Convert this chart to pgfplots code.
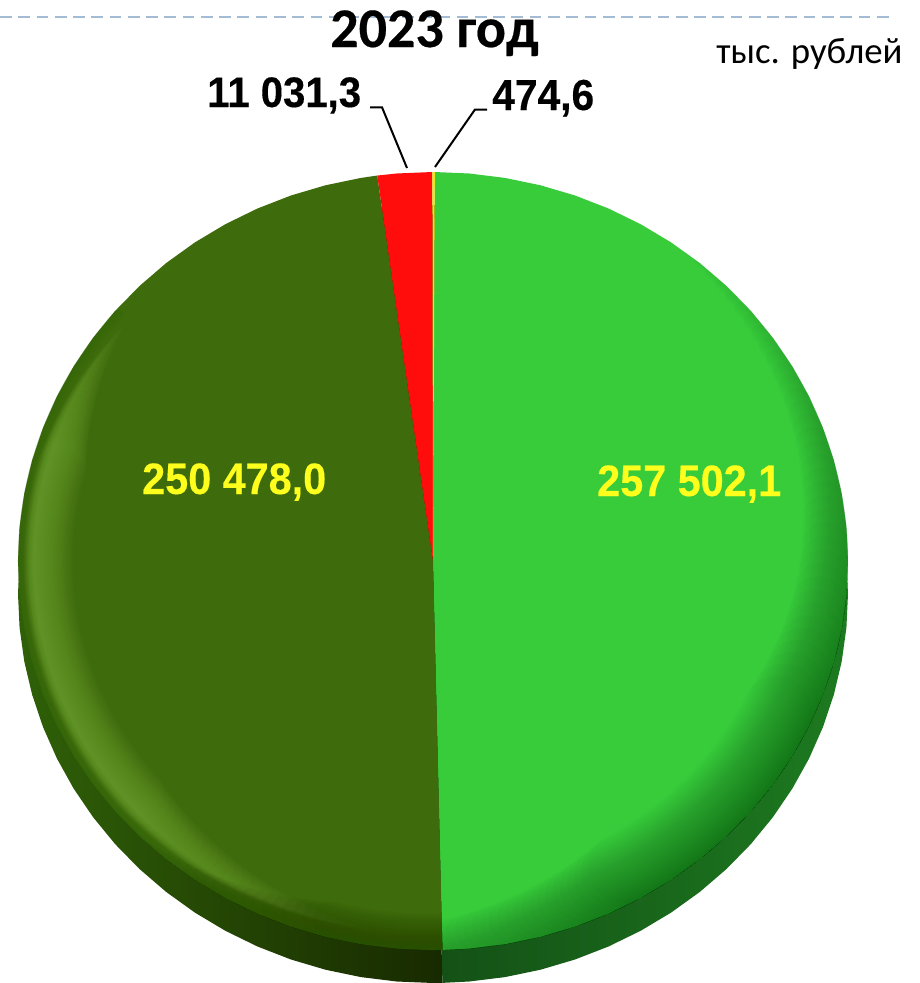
\documentclass[border=0pt]{standalone}
\usepackage{fontspec}
\usepackage{pgfplots}
\pgfplotsset{compat=1.18}
\setmainfont{Carlito}
\newfontfamily\arialb[FakeBold=0.3, FakeStretch=0.94]{Liberation Sans Bold}
\newfontfamily\titlef[FakeBold=0.4]{Carlito Bold}
\definecolor{cgreen}{HTML}{38CC3B}
\definecolor{cdark}{HTML}{3E6B0B}
\definecolor{cred}{HTML}{FF0D0D}
\definecolor{cyel}{HTML}{E8E81A}
\definecolor{clab}{HTML}{FFFF1E}
\definecolor{cdash}{HTML}{A3BCD3}
\definecolor{sideGa}{HTML}{145016}
\definecolor{sideGb}{HTML}{1D7A20}
\definecolor{sideDa}{HTML}{2F6008}
\definecolor{sideDb}{HTML}{182A00}
\definecolor{rimG}{HTML}{0B4D10}
\definecolor{hiD}{HTML}{85BD48}
\definecolor{loD}{HTML}{1C3000}
\definecolor{edgeD}{HTML}{2D6208}
% Values, thousand roubles: 257 502,1 / 250 478,0 / 11 031,3 / 474,6 (total 519 486,0)
% Sector angles, degrees: 178.447 / 173.578 / 7.645 / 0.329, clockwise from 89.75
\pgfplotsset{pie/.style={hide axis, scale only axis, width=690pt, height=737.25pt,
  at={(0pt,0pt)}, anchor=south west, clip=false,
  xmin=-1.04337, xmax=1.17349, ymin=-1.0848, ymax=1.4422}}
\newcommand\rim[6]{% colour, opacity, width px, inset px, from, to
  \pgfmathsetmacro\xr{(415-#4)*0.75}\pgfmathsetmacro\yr{(389-#4)*0.75}
  \draw[line width=#3*0.75pt, color=#1, opacity=#2, line cap=round]
    (324.75pt,316.5pt) ++(#5:\xr pt and \yr pt) arc[start angle=#5, end angle=#6, x radius=\xr pt, y radius=\yr pt];}
\begin{document}
\begin{tikzpicture}
\useasboundingbox (0pt,0pt) rectangle (690pt,737.25pt);
% side of the disc: the same sectors, 33 px lower
\begin{axis}[pie, ymin=-1.0, ymax=1.527]
\addplot[draw=none, left color=sideGa, right color=sideGb, data cs=polar] coordinates {
 (0,0)(89.75,1)(85,1)(80,1)(75,1)(70,1)(65,1)(60,1)(55,1)(50,1)(45,1)(40,1)(35,1)(30,1)(25,1)(20,1)(15,1)(10,1)(5,1)(0,1)(-5,1)(-10,1)(-15,1)(-20,1)(-25,1)(-30,1)(-35,1)(-40,1)(-45,1)(-50,1)(-55,1)(-60,1)(-65,1)(-70,1)(-75,1)(-80,1)(-85,1)(-88.697,1)};
\addplot[draw=none, left color=sideDa, right color=sideDb, data cs=polar] coordinates {
 (0,0)(-88.697,1)(-90,1)(-95,1)(-100,1)(-105,1)(-110,1)(-115,1)(-120,1)(-125,1)(-130,1)(-135,1)(-140,1)(-145,1)(-150,1)(-155,1)(-160,1)(-165,1)(-170,1)(-175,1)(-180,1)(-185,1)(-190,1)(-195,1)(-200,1)(-205,1)(-210,1)(-215,1)(-220,1)(-225,1)(-230,1)(-235,1)(-240,1)(-245,1)(-250,1)(-255,1)(-260,1)(-262.275,1)(-265,1)(-270.25,1)};
\end{axis}
% top face
\begin{axis}[pie]
\addplot[draw=none, fill=cgreen, data cs=polar] coordinates {
 (0,0)(89.75,1)(85,1)(80,1)(75,1)(70,1)(65,1)(60,1)(55,1)(50,1)(45,1)(40,1)(35,1)(30,1)(25,1)(20,1)(15,1)(10,1)(5,1)(0,1)(-5,1)(-10,1)(-15,1)(-20,1)(-25,1)(-30,1)(-35,1)(-40,1)(-45,1)(-50,1)(-55,1)(-60,1)(-65,1)(-70,1)(-75,1)(-80,1)(-85,1)(-88.697,1)};
\addplot[draw=none, fill=cdark, data cs=polar] coordinates {
 (0,0)(-88.697,1)(-90,1)(-95,1)(-100,1)(-105,1)(-110,1)(-115,1)(-120,1)(-125,1)(-130,1)(-135,1)(-140,1)(-145,1)(-150,1)(-155,1)(-160,1)(-165,1)(-170,1)(-175,1)(-180,1)(-185,1)(-190,1)(-195,1)(-200,1)(-205,1)(-210,1)(-215,1)(-220,1)(-225,1)(-230,1)(-235,1)(-240,1)(-245,1)(-250,1)(-255,1)(-260,1)(-262.275,1)};
\end{axis}
% bevel on the rim of the green sector
\begin{scope}
\clip (327.45pt,900pt) -- (324.75pt,316.5pt) -- (338.9pt,-267pt) -- (1500pt,-267pt) -- (1500pt,900pt) -- cycle;
\foreach \i in {1,...,35}{
  \pgfmathsetmacro\w{2*\i}\pgfmathsetmacro\h{\i}
  \pgfmathsetmacro\as{-110+\w/70*50}\pgfmathsetmacro\ae{55-\w/70*80}
  \rim{rimG}{0.024}{\w}{\h}{\as}{\ae}
}
\end{scope}
% bevel on the rim of the dark sector
\begin{scope}
\clip (327.45pt,900pt) -- (324.75pt,316.5pt) -- (338.9pt,-267pt) -- (-375pt,-267pt) -- (-375pt,900pt) -- cycle;
\foreach \i in {1,...,25}{
  \pgfmathsetmacro\w{2*\i}\pgfmathsetmacro\h{16+0.28*\w}
  \pgfmathsetmacro\as{140+25*\w/50}\pgfmathsetmacro\ae{262-42*\w/50}
  \rim{hiD}{0.034}{\w}{\h}{\as}{\ae}
}
\foreach \i in {1,...,18}{
  \pgfmathsetmacro\w{2*\i}\pgfmathsetmacro\h{\i}
  \pgfmathsetmacro\as{225+30*\w/36}
  \rim{loD}{0.038}{\w}{\h}{\as}{282}
}
\foreach \i in {1,...,5}{
  \pgfmathsetmacro\w{2*\i}\pgfmathsetmacro\h{\i}
  \rim{edgeD}{0.1}{\w}{\h}{140}{282}
}
\end{scope}
% narrow sectors
\begin{axis}[pie]
\addplot[draw=none, fill=cred, data cs=polar] coordinates {(0,0)(-262.275,1)(-265,1)(-269.921,1)};
\addplot[draw=none, fill=cyel, data cs=polar] coordinates {(0,0)(-269.921,1)(-270.25,1)};
\end{axis}
% rule, leaders and text, in pixel coordinates of the reference
\begin{axis}[hide axis, scale only axis, width=690pt, height=737.25pt, at={(0pt,0pt)}, anchor=south west,
  clip=false, xmin=0, xmax=920, ymin=0, ymax=983, y dir=reverse]
\addplot[cdash, line width=1.5pt, dash pattern=on 8.8pt off 4.9pt] coordinates {(0,16.5)(893,16.5)};
\addplot[black, line width=1.5pt] coordinates {(370,107.3)(382,107.3)(407,168)};
\addplot[black, line width=1.5pt] coordinates {(487,109.5)(475,109.5)(435,167)};
\node[anchor=base west, inner sep=0pt, text=black] at (axis cs:330,47) {\titlef\fontsize{42pt}{42pt}\selectfont 2023 год};
\node[anchor=base west, inner sep=0pt, text=black] at (axis cs:716,63) {\fontsize{27.6pt}{28pt}\selectfont тыс. рублей};
\node[anchor=base west, inner sep=0pt, text=black] at (axis cs:207,107) {\arialb\fontsize{32pt}{32pt}\selectfont 11 031,3};
\node[anchor=base west, inner sep=0pt, text=black] at (axis cs:492,110) {\arialb\fontsize{32.5pt}{32pt}\selectfont 474,6};
\node[anchor=base west, inner sep=0pt, text=clab] at (axis cs:142,494) {\arialb\fontsize{33pt}{32pt}\selectfont 250 478,0};
\node[anchor=base west, inner sep=0pt, text=clab] at (axis cs:597,496) {\arialb\fontsize{33pt}{32pt}\selectfont 257 502,1};
\end{axis}
\end{tikzpicture}
\end{document}
